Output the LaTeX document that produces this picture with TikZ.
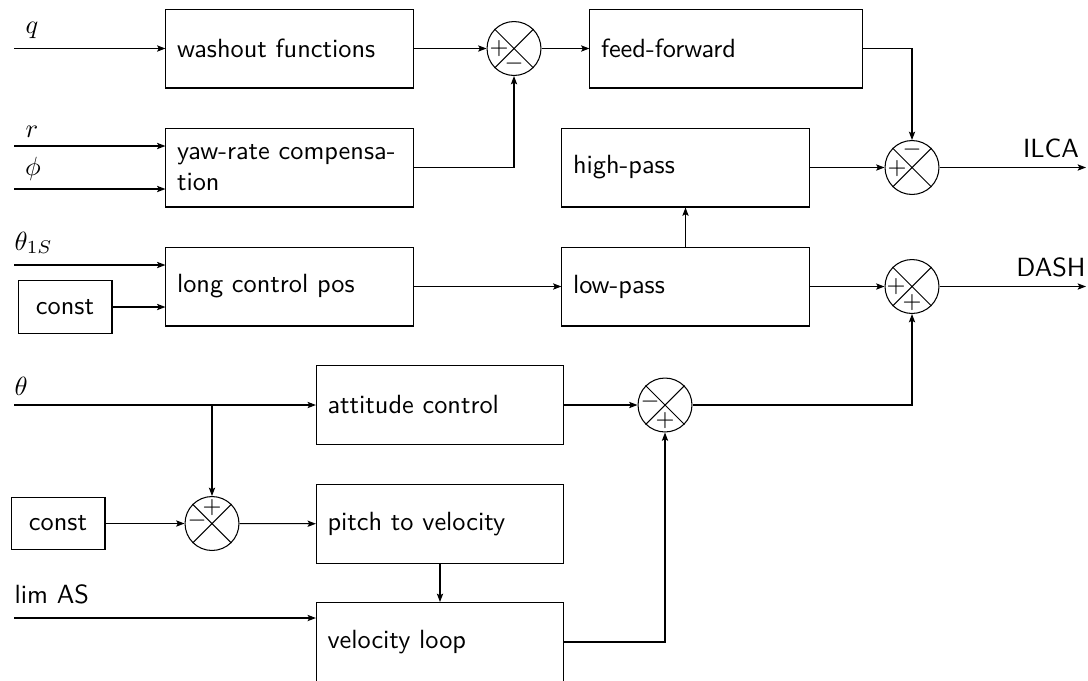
\documentclass[tikz,border=0pt]{standalone}
\usetikzlibrary{arrows.meta}
\begin{document}
\begin{tikzpicture}[x=0.38pt, y=-0.38pt,
  >={Stealth[length=3.2pt,width=2.4pt,inset=0.7pt]},
  block/.style={draw, rectangle, minimum height=30pt, text width=#1,
    inner xsep=4.2pt, inner ysep=2pt, align=left, font=\sffamily},
  block/.default=85.5pt,
  constbox/.style={draw, minimum width=35.7pt, minimum height=20pt,
    font=\sffamily, inner sep=0pt},
  sumnode/.style={draw, circle, minimum size=20.5pt, inner sep=0pt},
  sgn/.style={font=\small, inner sep=0pt},
  lbl/.style={inner sep=0pt},
]
\useasboundingbox (0,0) rectangle (1088,680);

% blocks
\node[block] (wash) at (289.5,48.5) {washout functions};
\node[block] (yaw)  at (289.5,167.5) {yaw-rate compensa-\\tion};
\node[block] (lcp)  at (289.5,286.5) {long control pos};
\node[block=95pt] (ff) at (726,48.5) {feed-forward};
\node[block] (hp)   at (685.5,167.5) {high-pass};
\node[block] (lp)   at (685.5,286.5) {low-pass};
\node[block] (att)  at (440,405) {attitude control};
\node[block] (p2v)  at (440,524) {pitch to velocity};
\node[block] (vel)  at (440,642) {velocity loop};
\node[constbox] (c1) at (65,307) {const};
\node[constbox] (c2) at (58,523.5) {const};

% summing junctions
\node[sumnode] (s1) at (514,48.5) {};
\node[sumnode] (s2) at (912,167.5) {};
\node[sumnode] (s3) at (912,286.5) {};
\node[sumnode] (s4) at (665,405) {};
\node[sumnode] (s5) at (212,523.5) {};
\foreach \s in {s1,s2,s3,s4,s5}
  \draw (\s.45) -- (\s.225) (\s.135) -- (\s.315);

% signs
\node[sgn] at ([shift={(-15,0)}]s1) {$+$};
\node[sgn] at ([shift={(0,15)}]s1) {$-$};
\node[sgn] at ([shift={(0,-18)}]s2) {$-$};
\node[sgn] at ([shift={(-15,1)}]s2) {$+$};
\node[sgn] at ([shift={(-16,0)}]s3) {$+$};
\node[sgn] at ([shift={(0,16)}]s3) {$+$};
\node[sgn] at ([shift={(-15,-3)}]s4) {$-$};
\node[sgn] at ([shift={(0,16)}]s4) {$+$};
\node[sgn] at ([shift={(0,-16)}]s5) {$+$};
\node[sgn] at ([shift={(-15,-3)}]s5) {$-$};

% input start points and output end points
\coordinate (qin) at (14,48.5);
\coordinate (rin) at (14,146);
\coordinate (phin) at (14,189);
\coordinate (thsin) at (14,265);
\coordinate (thin) at (14,405);
\coordinate (limin) at (14,618);
\coordinate (ilca) at (1086,167.5);
\coordinate (dash) at (1086,286.5);
\coordinate (br) at (212,405);

% signal labels
\node[lbl, anchor=base] at (32,33) {$q$};
\node[lbl, anchor=base] at (32,137) {$r$};
\node[lbl, anchor=base] at (33,175) {$\phi$};
\node[lbl, anchor=base west] at (14,250) {$\theta_{1S}$};
\node[lbl, anchor=base west] at (14,395) {$\theta$};
\node[lbl, anchor=base west, font=\sffamily] at (14,603) {lim AS};
\node[lbl, anchor=base, font=\sffamily] at (1051,157) {ILCA};
\node[lbl, anchor=base, font=\sffamily] at (1051,276) {DASH};

% connectors
\draw[->] (qin) -- (wash);
\draw[->] (wash) -- (s1);
\draw[->] (s1) -- (ff);
\draw[->] (ff.east) -| (s2.north);
\draw[->] (yaw.east) -| (s1.south);
\draw[->] (rin) -- (rin -| yaw.west);
\draw[->] (phin) -- (phin -| yaw.west);
\draw[->] (hp) -- (s2);
\draw[->] (s2) -- (ilca);
\draw[->] (thsin) -- (thsin -| lcp.west);
\draw[->] (c1) -- (c1 -| lcp.west);
\draw[->] (lcp) -- (lp);
\draw[->] (lp) -- (hp);
\draw[->] (lp) -- (s3);
\draw[->] (s3) -- (dash);
\draw[->] (thin) -- (att);
\draw[->] (br) -- (s5);
\draw[->] (c2) -- (s5);
\draw[->] (s5) -- (p2v);
\draw[->] (p2v) -- (vel);
\draw[->] (limin) -- (limin -| vel.west);
\draw[->] (att) -- (s4);
\draw[->] (vel.east) -| (s4.south);
\draw[->] (s4.east) -| (s3.south);
\end{tikzpicture}
\end{document}
